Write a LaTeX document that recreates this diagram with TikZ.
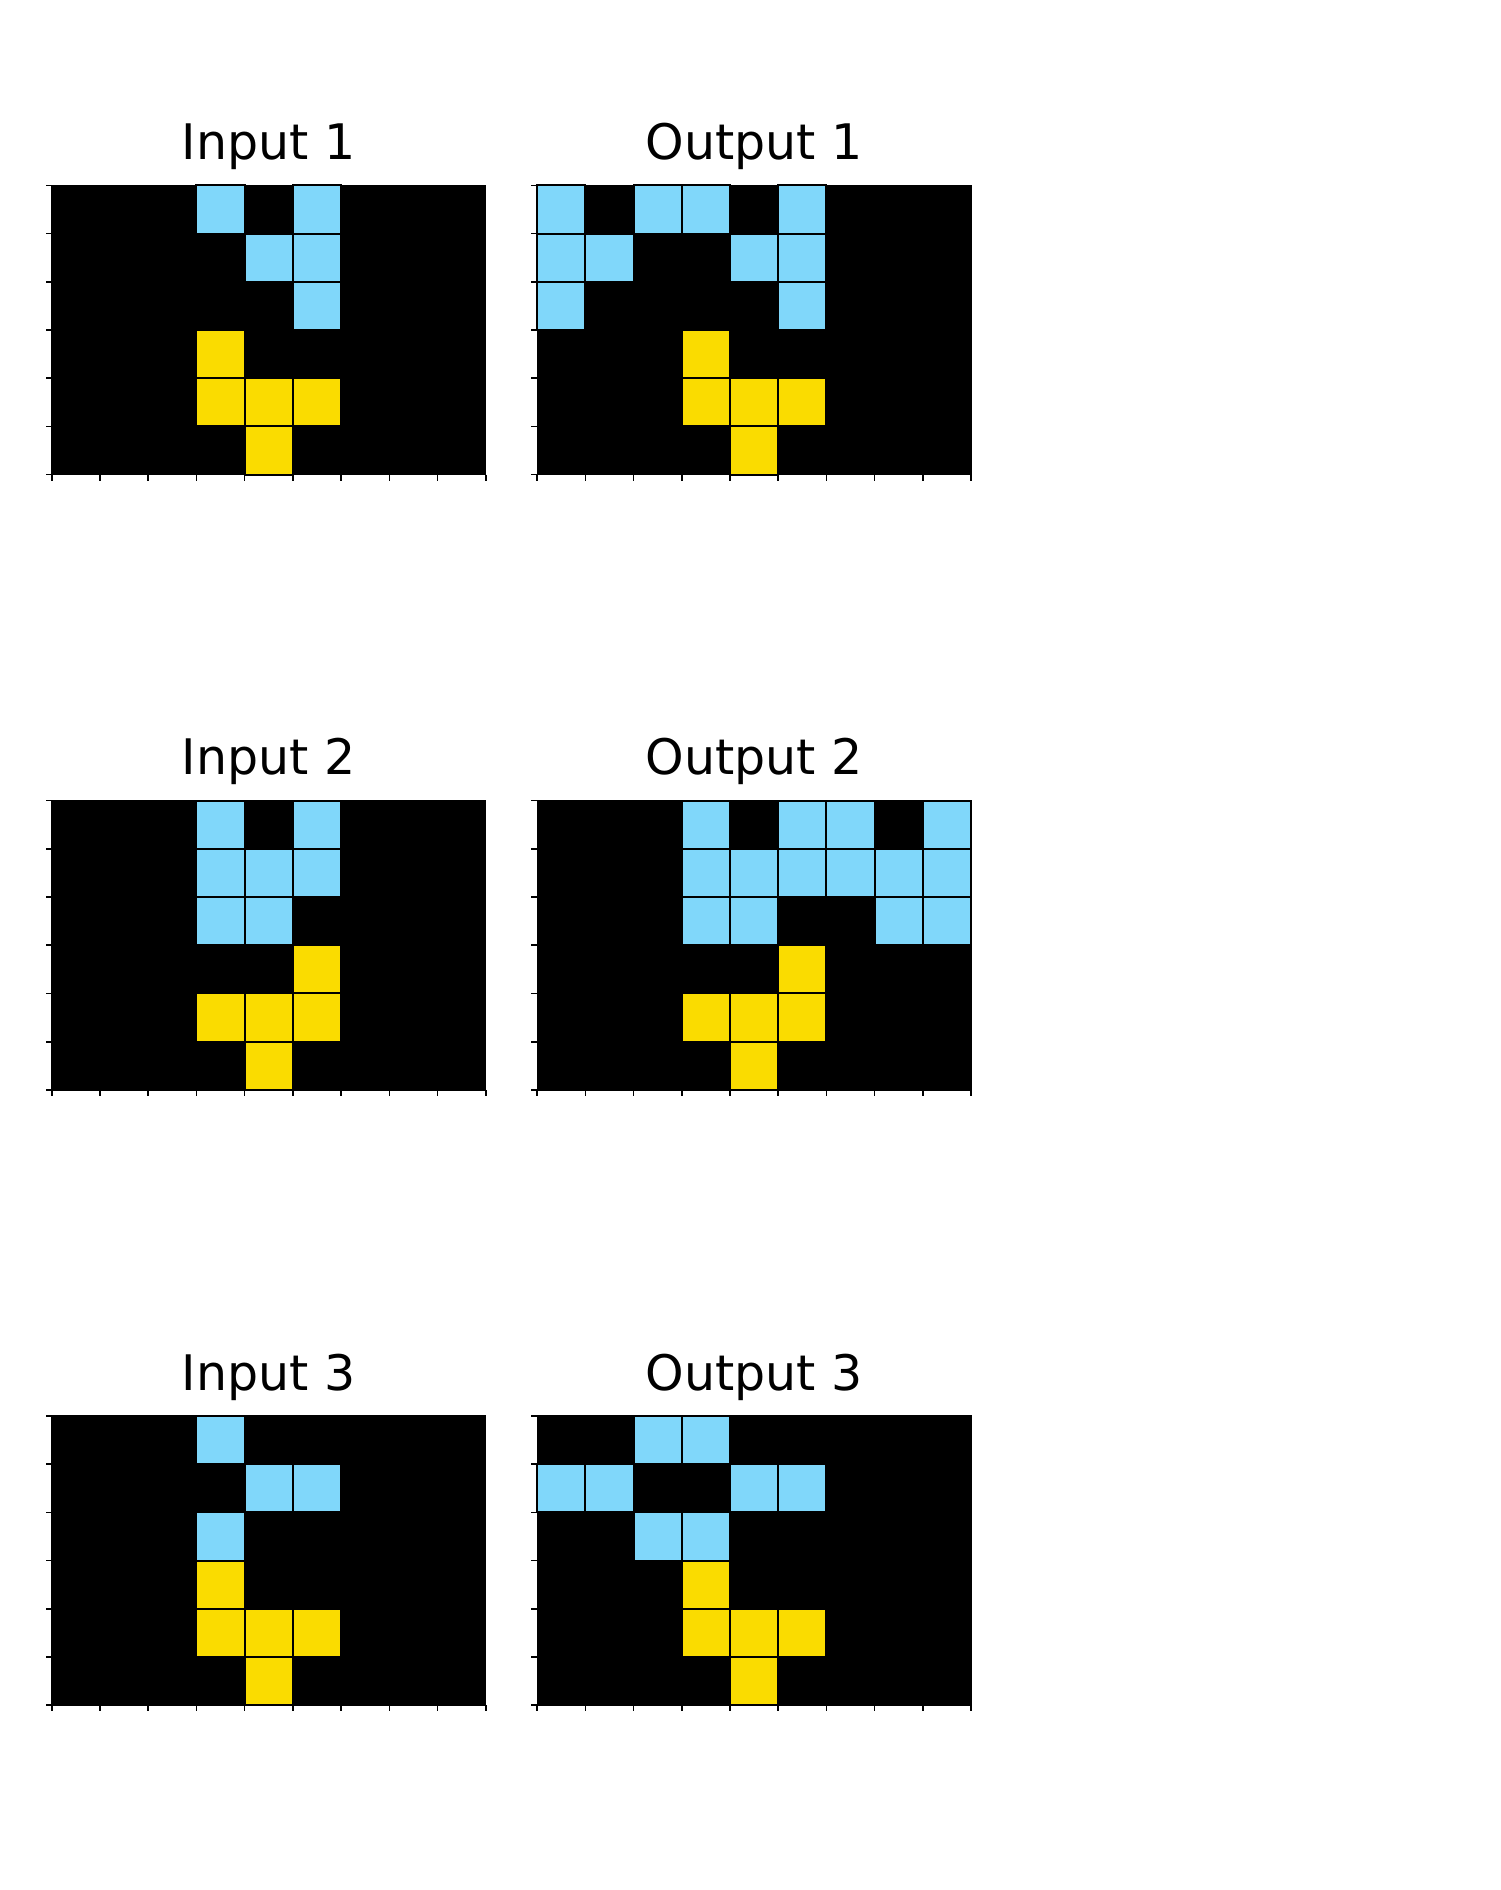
\documentclass[tikz,border=0pt]{standalone}
\usepackage{fontspec}
\setmainfont{DejaVu Sans}
\definecolor{cblue}{HTML}{80D7FA}
\definecolor{cyel}{HTML}{FADC00}
\tikzset{
  gtitle/.style={font=\fontsize{24.5}{29}\selectfont, anchor=base, inner sep=0pt},
  bcell/.style={fill=cblue, draw=black, line width=1pt},
  ycell/.style={fill=cyel, draw=black, line width=1pt},
  frame/.style={draw=black, line width=0.6pt},
  tick/.style={draw=black, line width=0.8pt}
}
\newcommand\arcgrid[6]{%
  \fill[black] (#1,#2) rectangle ++(433.98,289.32);
  \foreach \c/\r in {#4} \path[bcell] ({#1+\c*48.22},{#2+\r*48.22}) rectangle ++(48.22,48.22);
  \foreach \c/\r in {#5} \path[ycell] ({#1+\c*48.22},{#2+\r*48.22}) rectangle ++(48.22,48.22);
  \draw[frame] (#1,#2) rectangle ++(433.98,289.32);
  \foreach \i in {0,...,6} \draw[tick] (#1,{#2+\i*48.22}) -- ++(-6,0);
  \foreach \i in {0,...,9} \draw[tick] ({#1+\i*48.22},{#2+289.32}) -- ++(0,6);
  \node[gtitle] (#6) at ({#1+216.99},{#2-25.8}) {#3};
}
\begin{document}
\begin{tikzpicture}[x=0.5pt,y=-0.5pt]
\useasboundingbox (0,0) rectangle (1500,1890);
% row 1
\arcgrid{51.8}{185.3}{Input 1}{3/0,5/0,4/1,5/1,5/2}{3/3,3/4,4/4,5/4,4/5}{in1}
\arcgrid{537.1}{185.3}{Output 1}{0/0,2/0,3/0,5/0,0/1,1/1,4/1,5/1,0/2,5/2}{3/3,3/4,4/4,5/4,4/5}{out1}
% row 2
\arcgrid{51.8}{800.6}{Input 2}{3/0,5/0,3/1,4/1,5/1,3/2,4/2}{5/3,3/4,4/4,5/4,4/5}{in2}
\arcgrid{537.1}{800.6}{Output 2}{3/0,5/0,6/0,8/0,3/1,4/1,5/1,6/1,7/1,8/1,3/2,4/2,7/2,8/2}{5/3,3/4,4/4,5/4,4/5}{out2}
% row 3
\arcgrid{51.8}{1415.9}{Input 3}{3/0,4/1,5/1,3/2}{3/3,3/4,4/4,5/4,4/5}{in3}
\arcgrid{537.1}{1415.9}{Output 3}{2/0,3/0,0/1,1/1,4/1,5/1,2/2,3/2}{3/3,3/4,4/4,5/4,4/5}{out3}
\end{tikzpicture}
\end{document}
